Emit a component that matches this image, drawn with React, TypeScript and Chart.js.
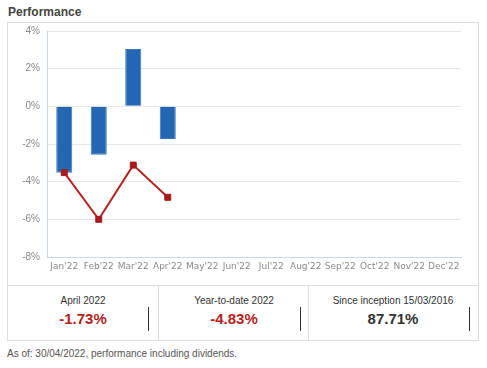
import React, { useEffect, useRef } from "react";
import { Chart, registerables } from "chart.js";

Chart.register(...registerables);

const categories = ["Jan'22", "Feb'22", "Mar'22", "Apr'22", "May'22", "Jun'22", "Jul'22", "Aug'22", "Sep'22", "Oct'22", "Nov'22", "Dec'22"];
const monthlyPerf: (number | null)[] = [-3.52, -2.57, 3.04, -1.73, null, null, null, null, null, null, null, null];
const cumulativePerf: (number | null)[] = [-3.52, -6.0, -3.12, -4.83, null, null, null, null, null, null, null, null];
const yTicks = [4, 2, 0, -2, -4, -6, -8];

const statLabels = ["April 2022", "Year-to-date 2022", "Since inception 15/03/2016"];
const statValues = ["-1.73%", "-4.83%", "87.71%"];
const statColors = ["#b41e1e", "#b41e1e", "#333333"];

export default function App() {
  const ref = useRef<HTMLCanvasElement | null>(null);

  useEffect(() => {
    if (!ref.current) return;
    const chart = new Chart(ref.current, {
      type: "bar",
      data: {
        labels: categories,
        datasets: [
          {
            type: "line",
            data: cumulativePerf,
            borderColor: "#b52424",
            borderWidth: 2,
            pointStyle: "rect",
            pointRadius: 4.2,
            pointBackgroundColor: "#a8191b",
            pointBorderColor: "#a8191b",
            pointBorderWidth: 1,
            tension: 0,
            order: 0,
          } as any,
          {
            type: "bar",
            data: monthlyPerf,
            backgroundColor: "#2366b1",
            borderColor: "#3a77bd",
            borderWidth: 1,
            barPercentage: 0.5,
            categoryPercentage: 0.93,
            order: 1,
          },
        ],
      },
      options: {
        animation: false,
        responsive: false,
        maintainAspectRatio: false,
        layout: { padding: { left: 0, top: 8, right: 16, bottom: 0 } },
        plugins: { legend: { display: false }, tooltip: { enabled: false } },
        scales: {
          x: {
            grid: { display: false, drawTicks: false },
            border: { display: true, color: "#ccd6eb", width: 1 },
            ticks: {
              color: "#8a8a8a",
              font: { family: "DejaVu Sans", size: 9 },
              maxRotation: 0,
              minRotation: 0,
              autoSkip: false,
              padding: 4,
            },
            afterFit: (s: any) => {
              s.height = 27;
              s.paddingLeft = 0;
              s.paddingRight = 0;
            },
          },
          y: {
            min: -8,
            max: 4,
            afterBuildTicks: (s: any) => {
              s.ticks = yTicks.map((v) => ({ value: v }));
            },
            grid: { color: "#e6e6e6", lineWidth: 1, drawTicks: false },
            border: { display: true, color: "#ccd6eb", width: 1 },
            ticks: {
              color: "#8a8a8a",
              font: { family: "Liberation Sans", size: 10 },
              padding: 7,
              callback: (v: any) => `${v}%`,
            },
            afterFit: (s: any) => {
              s.width = 39;
              s.paddingTop = 0;
              s.paddingBottom = 0;
            },
          },
        },
      },
    });
    return () => chart.destroy();
  }, []);

  return (
    <div style={{ position: "absolute", left: 0, top: 0, width: 487, height: 368, background: "#fff", fontFamily: "'Liberation Sans', Arial, sans-serif" }}>
      <div style={{ position: "absolute", left: 8, top: 5, fontSize: 12, fontWeight: "bold", color: "#444", lineHeight: "14px" }}>Performance</div>
      <div style={{ position: "absolute", left: 7, top: 22, width: 470, height: 262, border: "1px solid #dedede", borderBottom: "none" }}>
        <canvas ref={ref} width={469} height={261} style={{ position: "absolute", left: 0, top: 0, width: 469, height: 261 }} />
      </div>
      <div style={{ position: "absolute", left: 7, top: 285, width: 470, height: 54, border: "1px solid #dedede", display: "flex" }}>
        {statLabels.map((lab, i) => (
          <div
            key={lab}
            style={{
              position: "relative",
              width: i === 2 ? 170 : 150,
              height: 54,
              borderLeft: i === 0 ? "none" : "1px solid #dedede",
              boxSizing: "border-box",
            }}
          >
            <div style={{ position: "absolute", left: 0, width: i === 2 ? 168 : 150, top: 9, textAlign: "center", fontSize: 10, color: "#333", lineHeight: "12px" }}>{lab}</div>
            <div style={{ position: "absolute", left: 0, width: i === 2 ? 168 : 150, top: 24, textAlign: "center", fontSize: 15, fontWeight: "bold", color: statColors[i], lineHeight: "18px" }}>{statValues[i]}</div>
            <div style={{ position: "absolute", left: i === 0 ? 140 : i === 1 ? 141 : 160, top: 21, width: 1, height: 24, background: "#333" }} />
          </div>
        ))}
      </div>
      <div style={{ position: "absolute", left: 7, top: 348, fontSize: 10, color: "#555", lineHeight: "12px" }}>As of: 30/04/2022, performance including dividends.</div>
    </div>
  );
}
